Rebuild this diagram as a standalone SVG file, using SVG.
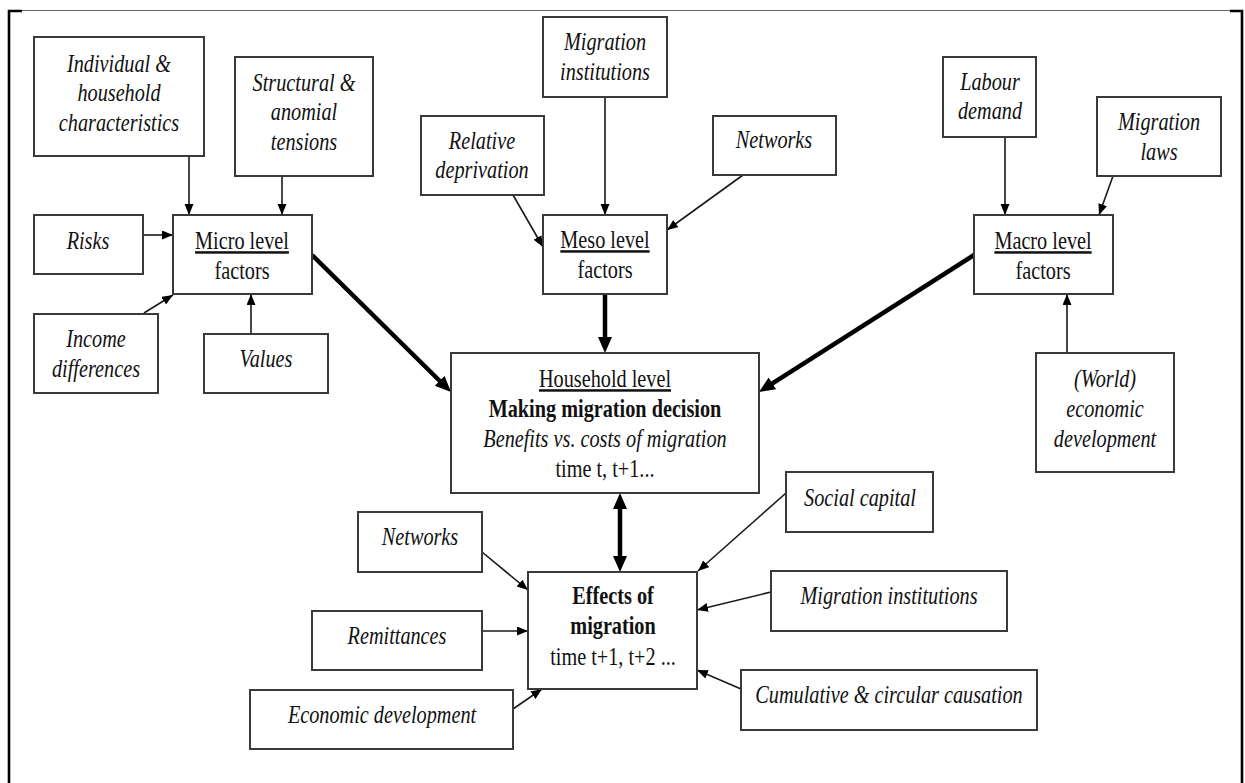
<svg xmlns="http://www.w3.org/2000/svg" width="1245" height="783" viewBox="0 0 1245 783">
<style>
.box{fill:#fff;stroke:#3a3a3a;stroke-width:2}
text{font-family:"Liberation Serif","Times New Roman",serif;font-size:25px;fill:#111;text-anchor:middle}
.i{font-style:italic}
.b{font-weight:bold}
.u{text-decoration:underline}
.thin{stroke:#1a1a1a;stroke-width:1.6;fill:none;marker-end:url(#ah)}
.thick{stroke:#000;stroke-width:4.5;fill:none;marker-end:url(#ahb)}
</style>
<defs>
<marker id="ah" markerUnits="userSpaceOnUse" markerWidth="12" markerHeight="10" refX="11" refY="4.5" orient="auto"><path d="M0,0 L11,4.5 L0,9 z" fill="#000"/></marker>
<marker id="ahb" markerUnits="userSpaceOnUse" markerWidth="18" markerHeight="15" refX="6" refY="7" orient="auto-start-reverse"><path d="M0,0 L16,7 L0,14 z" fill="#000"/></marker>
</defs>
<rect width="1245" height="783" fill="#fff"/>
<g id="frame">
<line x1="22" y1="10.5" x2="1230" y2="10.5" stroke="#666" stroke-width="1.2"/>
<path d="M9,783 L9,11 L22,11" fill="none" stroke="#000" stroke-width="2.6"/>
<path d="M1230,11 L1242,11 L1242,783" fill="none" stroke="#000" stroke-width="2.6"/>
</g>
<g id="connectors">
<line class="thin" x1="189" y1="156" x2="189" y2="215"/>
<line class="thin" x1="282" y1="176" x2="282" y2="215"/>
<line class="thin" x1="143" y1="235" x2="173" y2="235"/>
<line class="thin" x1="144" y1="313" x2="173" y2="295"/>
<line class="thin" x1="251" y1="334" x2="251" y2="294"/>
<line class="thin" x1="605" y1="97" x2="605" y2="215"/>
<line class="thin" x1="513" y1="195" x2="543" y2="247"/>
<line class="thin" x1="743" y1="175" x2="667" y2="230"/>
<line class="thin" x1="1005" y1="137" x2="1005" y2="215"/>
<line class="thin" x1="1113" y1="176" x2="1099" y2="215"/>
<line class="thin" x1="1067" y1="353" x2="1067" y2="294"/>
<line class="thin" x1="786" y1="493" x2="698" y2="571"/>
<line class="thin" x1="771" y1="592" x2="697" y2="610"/>
<line class="thin" x1="741" y1="689" x2="697" y2="670"/>
<line class="thin" x1="482" y1="552" x2="528" y2="590"/>
<line class="thin" x1="482" y1="631" x2="528" y2="631"/>
<line class="thin" x1="513" y1="709" x2="542" y2="689"/>
<line class="thick" x1="312" y1="255" x2="443.9" y2="385"/>
<line class="thick" x1="605" y1="294" x2="605" y2="343"/>
<line class="thick" x1="974" y1="255" x2="767.4" y2="386.6"/>
<line class="thick" x1="620" y1="503" x2="620" y2="562" marker-start="url(#ahb)"/>
</g>
<g id="individual"><rect class="box" x="34" y="37" width="170" height="119"/>
<text class="i" transform="translate(119,72) scale(0.81,1)"><tspan x="0" y="0">Individual &amp;</tspan><tspan x="0" y="29">household</tspan><tspan x="0" y="59">characteristics</tspan></text></g>
<g id="structural"><rect class="box" x="235" y="57" width="138" height="119"/>
<text class="i" transform="translate(304,91) scale(0.81,1)"><tspan x="0" y="0">Structural &amp;</tspan><tspan x="0" y="29.5">anomial</tspan><tspan x="0" y="59.5">tensions</tspan></text></g>
<g id="risks"><rect class="box" x="34" y="215" width="109" height="59"/>
<text class="i" transform="translate(88,249) scale(0.81,1)">Risks</text></g>
<g id="micro"><rect class="box" x="173" y="215" width="139" height="79"/>
<text transform="translate(242,249) scale(0.81,1)"><tspan class="u" x="0" y="0">Micro level</tspan><tspan x="0" y="30">factors</tspan></text></g>
<g id="income"><rect class="box" x="34" y="314" width="124" height="79"/>
<text class="i" transform="translate(96,347) scale(0.81,1)"><tspan x="0" y="0">Income</tspan><tspan x="0" y="30">differences</tspan></text></g>
<g id="values"><rect class="box" x="204" y="334" width="124" height="59"/>
<text class="i" transform="translate(266,367) scale(0.81,1)">Values</text></g>
<g id="migration-institutions-top"><rect class="box" x="543" y="17" width="124" height="80"/>
<text class="i" transform="translate(605,50) scale(0.81,1)"><tspan x="0" y="0">Migration</tspan><tspan x="0" y="30">institutions</tspan></text></g>
<g id="relative-deprivation"><rect class="box" x="421" y="116" width="123" height="79"/>
<text class="i" transform="translate(482,149) scale(0.81,1)"><tspan x="0" y="0">Relative</tspan><tspan x="0" y="29">deprivation</tspan></text></g>
<g id="networks-meso"><rect class="box" x="713" y="116" width="123" height="59"/>
<text class="i" transform="translate(774,148) scale(0.81,1)">Networks</text></g>
<g id="meso"><rect class="box" x="543" y="215" width="124" height="79"/>
<text transform="translate(605,248) scale(0.81,1)"><tspan class="u" x="0" y="0">Meso level</tspan><tspan x="0" y="30">factors</tspan></text></g>
<g id="labour-demand"><rect class="box" x="943" y="57" width="93" height="80"/>
<text class="i" transform="translate(990,90) scale(0.81,1)"><tspan x="0" y="0">Labour</tspan><tspan x="0" y="29">demand</tspan></text></g>
<g id="migration-laws"><rect class="box" x="1097" y="97" width="124" height="79"/>
<text class="i" transform="translate(1159,130) scale(0.81,1)"><tspan x="0" y="0">Migration</tspan><tspan x="0" y="30">laws</tspan></text></g>
<g id="macro"><rect class="box" x="974" y="215" width="139" height="79"/>
<text transform="translate(1043,249) scale(0.81,1)"><tspan class="u" x="0" y="0">Macro level</tspan><tspan x="0" y="30">factors</tspan></text></g>
<g id="world-economic-development"><rect class="box" x="1036" y="353" width="138" height="119"/>
<text class="i" transform="translate(1105,387) scale(0.81,1)"><tspan x="0" y="0">(World)</tspan><tspan x="0" y="30">economic</tspan><tspan x="0" y="60">development</tspan></text></g>
<g id="household"><rect class="box" x="451" y="353" width="308" height="140"/>
<text transform="translate(605,387) scale(0.81,1)"><tspan class="u" x="0" y="0">Household level</tspan><tspan class="b" x="0" y="30">Making migration decision</tspan><tspan class="i" x="0" y="60">Benefits vs. costs of migration</tspan><tspan x="0" y="90">time t, t+1...</tspan></text></g>
<g id="social-capital"><rect class="box" x="786" y="472" width="147" height="60"/>
<text class="i" transform="translate(860,506) scale(0.81,1)">Social capital</text></g>
<g id="networks-bottom"><rect class="box" x="358" y="512" width="124" height="60"/>
<text class="i" transform="translate(420,545) scale(0.81,1)">Networks</text></g>
<g id="effects"><rect class="box" x="528" y="572" width="169" height="117"/>
<text transform="translate(613,604) scale(0.81,1)"><tspan class="b" x="0" y="0">Effects of</tspan><tspan class="b" x="0" y="30">migration</tspan><tspan x="0" y="61">time t+1, t+2 ...</tspan></text></g>
<g id="migration-institutions-bottom"><rect class="box" x="771" y="571" width="236" height="60"/>
<text class="i" transform="translate(889,604) scale(0.81,1)">Migration institutions</text></g>
<g id="remittances"><rect class="box" x="312" y="611" width="170" height="59"/>
<text class="i" transform="translate(397,644) scale(0.81,1)">Remittances</text></g>
<g id="cumulative"><rect class="box" x="741" y="670" width="296" height="60"/>
<text class="i" transform="translate(889,703) scale(0.81,1)">Cumulative &amp; circular causation</text></g>
<g id="economic-development"><rect class="box" x="250" y="690" width="263" height="59"/>
<text class="i" transform="translate(382,723) scale(0.81,1)">Economic development</text></g>
</svg>
